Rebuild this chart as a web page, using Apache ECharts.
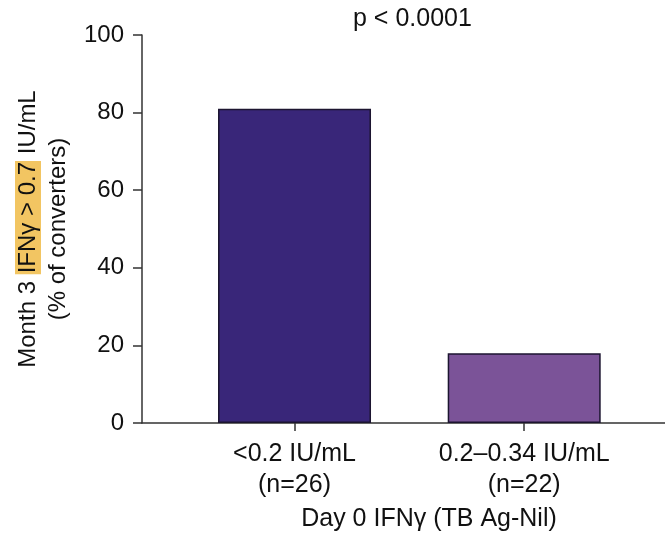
<!DOCTYPE html>
<html>
<head>
<meta charset="utf-8">
<script src="https://cdn.jsdelivr.net/npm/echarts@6/dist/echarts.min.js"></script>
<style>
html,body{margin:0;padding:0;background:#fff;}
#chart{width:665px;height:534px;}
</style>
</head>
<body>
<div id="chart"></div>
<script>
var categories = ['<0.2 IU/mL\n(n=26)', '0.2–0.34 IU/mL\n(n=22)'];
var values = [81, 18];
var barColors = ['#392679', '#7b5398'];
var yTicks = [0, 20, 40, 60, 80, 100];
var titleText = 'p < 0.0001';
var xName = 'Day 0 IFNγ (TB Ag-Nil)';

var FONT = 'Liberation Sans, Arial, Helvetica, sans-serif';
var positions = categories.map(function (c, i) { return i + 1; });

var chart = echarts.init(document.getElementById('chart'), null, {renderer: 'canvas'});
chart.setOption({
  animation: false,
  backgroundColor: '#ffffff',
  title: {
    text: titleText,
    left: 348,
    top: 2,
    textStyle: {fontFamily: FONT, fontSize: 25, fontWeight: 'normal', color: '#111'}
  },
  grid: {left: 142, right: 0, top: 35, bottom: 111, containLabel: false, outerBoundsMode: 'none'},
  xAxis: {
    type: 'value',
    min: 0.336,
    max: 2.613,
    splitLine: {show: false},
    axisLine: {show: true, lineStyle: {color: '#333', width: 1.5}},
    axisTick: {show: true, length: 8, customValues: positions, lineStyle: {color: '#333', width: 1.5}},
    axisLabel: {
      customValues: positions,
      margin: 16,
      fontFamily: FONT,
      fontSize: 25,
      lineHeight: 31,
      color: '#111',
      formatter: function (v) { return categories[Math.round(v) - 1] || ''; }
    },
    name: xName,
    nameLocation: 'middle',
    nameGap: 84,
    nameTextStyle: {fontFamily: FONT, fontSize: 25, color: '#111', padding: [0, 0, 0, 51]}
  },
  yAxis: {
    type: 'value',
    min: 0,
    max: 100,
    interval: 20,
    splitLine: {show: false},
    axisLine: {show: true, lineStyle: {color: '#333', width: 1.5}},
    axisTick: {show: true, length: 9, lineStyle: {color: '#333', width: 1.5}},
    axisLabel: {margin: 18, fontFamily: FONT, fontSize: 24, color: '#111'},
    name: '{a|Month 3 }{h|IFNγ > 0.7}{a| IU/mL}\n{a|(% of converters)}',
    nameLocation: 'middle',
    nameRotate: 90,
    nameGap: 69,
    nameTextStyle: {
      fontFamily: FONT, fontSize: 24, color: '#111', lineHeight: 30,
      rich: {
        a: {fontFamily: FONT, fontSize: 24, color: '#111', lineHeight: 30},
        h: {fontFamily: FONT, fontSize: 24, color: '#111', lineHeight: 30, backgroundColor: '#f2c562', padding: [1, 1, 1, 1]}
      }
    }
  },
  series: [{
    type: 'bar',
    barWidth: 153,
    data: values.map(function (v, i) {
      return {value: [positions[i], v], itemStyle: {color: barColors[i], borderColor: '#1c1530', borderWidth: 1.5}};
    })
  }]
});
</script>
</body>
</html>
